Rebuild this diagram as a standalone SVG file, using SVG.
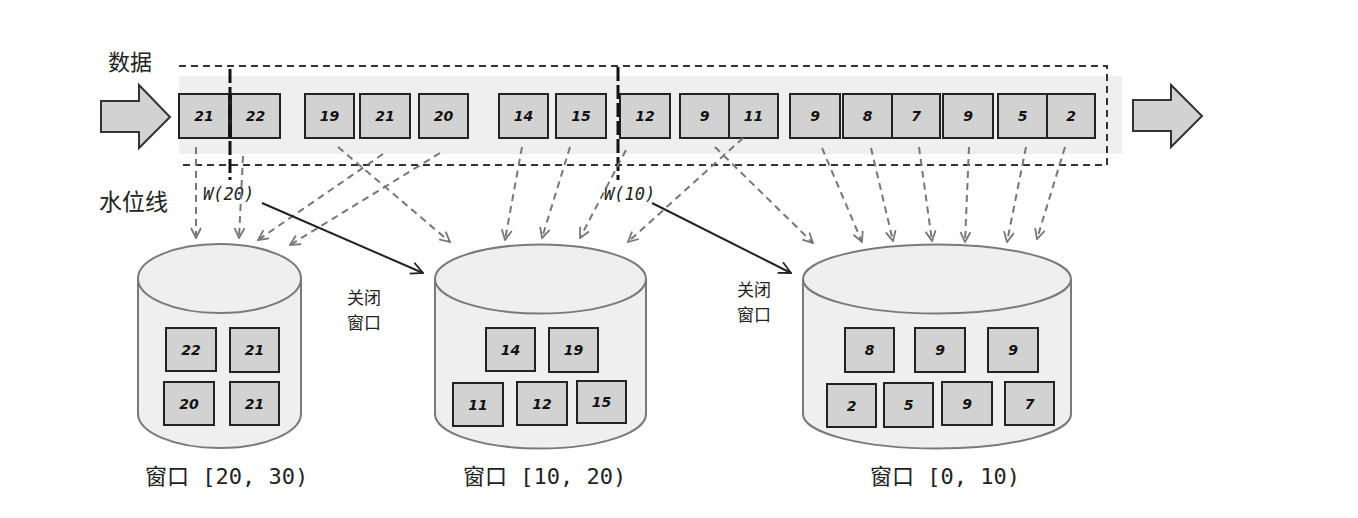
<svg xmlns="http://www.w3.org/2000/svg" width="1358" height="518" viewBox="0 0 1358 518">
<defs>
<marker id="ga" viewBox="0 0 12 12" refX="11" refY="6" markerWidth="12" markerHeight="12" markerUnits="userSpaceOnUse" orient="auto">
<path d="M1,1 L11,6 L1,11" fill="none" stroke="#777" stroke-width="1.8"/>
</marker>
<marker id="ba" viewBox="0 0 14 14" refX="13" refY="7" markerWidth="14" markerHeight="14" markerUnits="userSpaceOnUse" orient="auto">
<path d="M1,1 L13,7 L1,13" fill="none" stroke="#222" stroke-width="1.8"/>
</marker>
</defs>
<style>
.box{fill:#d2d2d2;stroke:#222;stroke-width:2}
.num{font-family:"DejaVu Sans",sans-serif;font-weight:bold;font-style:italic;font-size:14px;fill:#111;text-anchor:middle}
.cyl{fill:#efefef;stroke:#7a7a7a;stroke-width:2}
.cn{font-family:"Noto Sans CJK SC",sans-serif;fill:#222}
.win{font-family:"DejaVu Sans Mono","Noto Sans CJK SC",monospace;font-size:22px;fill:#222}
.wm{font-family:"DejaVu Sans Mono",monospace;font-style:italic;font-size:17px;fill:#222}
.dash{fill:none;stroke:#777;stroke-width:2;stroke-dasharray:7 5;marker-end:url(#ga)}
.close{fill:none;stroke:#222;stroke-width:2;marker-end:url(#ba)}
.blk{fill:#d2d2d2;stroke:#333;stroke-width:2}
</style>
<rect width="1358" height="518" fill="#fff"/>

<g id="stream">
<rect x="179" y="76" width="943" height="78" fill="#efefef"/>
<path d="M179,66 H1107 V165 H179" fill="none" stroke="#333" stroke-width="2" stroke-dasharray="7 5"/>
</g>

<g id="label-data"><text class="cn" x="108" y="70" font-size="22">数据</text></g>
<g id="label-watermark"><text class="cn" x="99" y="210" font-size="23">水位线</text></g>

<g id="arrow-in"><path class="blk" d="M101,101 H139 V85 L170,117 L139,148 V132 H101 Z"/></g>
<g id="arrow-out"><path class="blk" d="M1133,100 H1171 V85 L1202,116 L1171,147 V131 H1133 Z"/></g>

<g id="stream-items">
<rect class="box" x="179" y="94" width="50" height="44"/><text class="num" x="204" y="121">21</text>
<rect class="box" x="231" y="94" width="49" height="44"/><text class="num" x="255.5" y="121">22</text>
<rect class="box" x="305" y="94" width="49" height="44"/><text class="num" x="329.5" y="121">19</text>
<rect class="box" x="360" y="94" width="50" height="44"/><text class="num" x="385" y="121">21</text>
<rect class="box" x="419" y="94" width="49" height="44"/><text class="num" x="443.5" y="121">20</text>
<rect class="box" x="499" y="94" width="49" height="44"/><text class="num" x="523.5" y="121">14</text>
<rect class="box" x="556" y="94" width="50" height="44"/><text class="num" x="581" y="121">15</text>
<rect class="box" x="620" y="94" width="50" height="44"/><text class="num" x="645" y="121">12</text>
<rect class="box" x="680" y="94" width="49" height="44"/><text class="num" x="704.5" y="121">9</text>
<rect class="box" x="729" y="94" width="49" height="44"/><text class="num" x="753.5" y="121">11</text>
<rect class="box" x="790" y="94" width="50" height="44"/><text class="num" x="815" y="121">9</text>
<rect class="box" x="843" y="94" width="49" height="44"/><text class="num" x="867.5" y="121">8</text>
<rect class="box" x="892" y="94" width="48" height="44"/><text class="num" x="916" y="121">7</text>
<rect class="box" x="943" y="94" width="50" height="44"/><text class="num" x="968" y="121">9</text>
<rect class="box" x="998" y="94" width="49" height="44"/><text class="num" x="1022.5" y="121">5</text>
<rect class="box" x="1047" y="94" width="48" height="44"/><text class="num" x="1071" y="121">2</text>
</g>

<g id="watermark-20">
<line x1="230" y1="69" x2="230" y2="180" stroke="#111" stroke-width="3" stroke-dasharray="14 4"/>
<text class="wm" x="203" y="200">W(20)</text>
</g>
<g id="watermark-10">
<line x1="618" y1="67" x2="618" y2="180" stroke="#111" stroke-width="3" stroke-dasharray="14 4"/>
<text class="wm" x="604" y="200">W(10)</text>
</g>

<g id="window-20-30">
<path class="cyl" d="M138,278.5 V413.5 A81.5,34.5 0 0 0 301,413.5 V278.5"/>
<ellipse class="cyl" cx="219.5" cy="278.5" rx="81.5" ry="34.5"/>
<rect class="box" x="166" y="328" width="50" height="43"/><text class="num" x="191" y="355">22</text>
<rect class="box" x="230" y="328" width="49" height="44"/><text class="num" x="254.5" y="355">21</text>
<rect class="box" x="164" y="382" width="50" height="43"/><text class="num" x="189" y="409">20</text>
<rect class="box" x="230" y="382" width="49" height="43"/><text class="num" x="254.5" y="409">21</text>
<text class="win" x="145" y="484">窗口 [20, 30)</text>
</g>

<g id="window-10-20">
<path class="cyl" d="M435,279 V414 A105.5,34.5 0 0 0 646,414 V279"/>
<ellipse class="cyl" cx="540.5" cy="279" rx="105.5" ry="34.5"/>
<rect class="box" x="486" y="328" width="49" height="43"/><text class="num" x="510.5" y="355">14</text>
<rect class="box" x="549" y="328" width="49" height="44"/><text class="num" x="573.5" y="355">19</text>
<rect class="box" x="453" y="383" width="50" height="43"/><text class="num" x="478" y="410">11</text>
<rect class="box" x="517" y="382" width="50" height="43"/><text class="num" x="542" y="409">12</text>
<rect class="box" x="577" y="381" width="49" height="42"/><text class="num" x="601.5" y="407">15</text>
<text class="win" x="463" y="484">窗口 [10, 20)</text>
</g>

<g id="window-0-10">
<path class="cyl" d="M803,279 V414 A134,34.5 0 0 0 1071,414 V279"/>
<ellipse class="cyl" cx="937" cy="279" rx="134" ry="34.5"/>
<rect class="box" x="845" y="328" width="49" height="44"/><text class="num" x="869.5" y="355">8</text>
<rect class="box" x="915" y="328" width="50" height="44"/><text class="num" x="940" y="355">9</text>
<rect class="box" x="988" y="328" width="50" height="44"/><text class="num" x="1013" y="355">9</text>
<rect class="box" x="827" y="384" width="49" height="43"/><text class="num" x="851.5" y="411">2</text>
<rect class="box" x="884" y="383" width="49" height="44"/><text class="num" x="908.5" y="410">5</text>
<rect class="box" x="942" y="382" width="50" height="43"/><text class="num" x="967" y="409">9</text>
<rect class="box" x="1005" y="382" width="49" height="43"/><text class="num" x="1029.5" y="409">7</text>
<text class="win" x="870" y="484">窗口 [0, 10)</text>
</g>

<g id="label-close-1"><text class="cn" font-size="17"><tspan x="347" y="304">关闭</tspan><tspan x="347" y="329">窗口</tspan></text></g>
<g id="label-close-2"><text class="cn" font-size="17"><tspan x="737" y="296">关闭</tspan><tspan x="737" y="321">窗口</tspan></text></g>

<g id="connectors">
<path class="dash" d="M196,147 L196,238"/>
<path class="dash" d="M243,156 L239,238"/>
<path class="dash" d="M383,154 L258,240"/>
<path class="dash" d="M440,153 L290,245"/>
<path class="dash" d="M338,147 L450,242"/>
<path class="dash" d="M522,147 L505,240"/>
<path class="dash" d="M570,147 L542,238"/>
<path class="dash" d="M626,150 L580,238"/>
<path class="dash" d="M743,138 L628,242"/>
<path class="dash" d="M715,147 L813,243"/>
<path class="dash" d="M822,148 L862,242"/>
<path class="dash" d="M871,148 L893,241"/>
<path class="dash" d="M919,147 L932,241"/>
<path class="dash" d="M969,147 L965,242"/>
<path class="dash" d="M1026,147 L1007,242"/>
<path class="dash" d="M1065,147 L1037,239"/>
<path class="close" d="M262,203 L423,273"/>
<path class="close" d="M652,203 L791,273"/>
</g>
</svg>
